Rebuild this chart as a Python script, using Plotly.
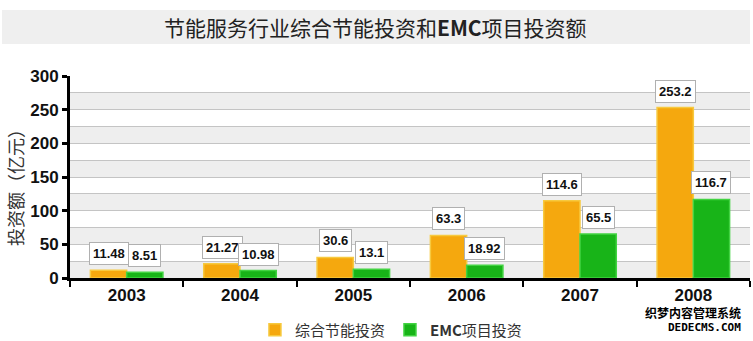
import plotly.graph_objects as go

years = ["2003", "2004", "2005", "2006", "2007", "2008"]
total_invest = [11.48, 21.27, 30.6, 63.3, 114.6, 253.2]
emc_invest = [8.51, 10.98, 13.1, 18.92, 65.5, 116.7]
series_names = ["综合节能投资", "<b>EMC</b>项目投资"]
title_text = "节能服务行业综合节能投资和<b>EMC</b>项目投资额"
y_title = "投资额（亿元）"
y_ticks = [0, 50, 100, 150, 200, 250, 300]

NUM_FONT = "Arial, Liberation Sans, sans-serif"
CJK_FONT = "Noto Sans CJK SC, sans-serif"

fig = go.Figure()
fig.add_trace(go.Bar(
    x=years, y=total_invest, name=series_names[0],
    marker=dict(color="#F5A80E", line=dict(color="#F7C93F", width=1.5)),
))
fig.add_trace(go.Bar(
    x=years, y=emc_invest, name=series_names[1],
    marker=dict(color="#18B418", line=dict(color="#42D342", width=1.5)),
))

shapes = []
# alternating background bands
for lo in range(0, 300, 50):
    shapes.append(dict(type="rect", xref="paper", yref="y", x0=0, x1=1, y0=lo, y1=lo + 25,
                       fillcolor="#EEEEEE", line=dict(width=0), layer="below"))
# title band
shapes.append(dict(type="rect", xref="paper", yref="paper", x0=-0.1, x1=1.0, y0=1.158, y1=1.327,
                   fillcolor="#EFEFEF", line=dict(width=0), layer="below"))

annotations = []
for i, yr in enumerate(years):
    for vals, shift in ((total_invest, -18), (emc_invest, 18)):
        annotations.append(dict(
            x=i, y=vals[i], xref="x", yref="y", xshift=shift, yshift=5,
            yanchor="bottom", showarrow=False,
            text="<b>%s</b>" % f"{vals[i]:g}",
            font=dict(family=NUM_FONT, size=13, color="#111111"),
            bgcolor="#FFFFFF", bordercolor="#B0B0B0", borderwidth=1, borderpad=3,
        ))
annotations.append(dict(
    x=-0.081, y=0.47, xref="paper", yref="paper", text=y_title, textangle=-90,
    xanchor="center", yanchor="middle",
    showarrow=False, font=dict(family=CJK_FONT, size=18, color="#333333"),
))
annotations.append(dict(
    x=0.449, y=1.243, xref="paper", yref="paper", text=title_text,
    xanchor="center", yanchor="middle",
    showarrow=False, font=dict(family=CJK_FONT, size=21, color="#222222"),
))
annotations.append(dict(
    x=0.99, y=-0.173, xref="paper", yref="paper", text="<b>织梦内容管理系统</b>",
    showarrow=False, xanchor="right", yanchor="middle",
    font=dict(family=CJK_FONT, size=12, color="#000000"),
))
annotations.append(dict(
    x=0.99, y=-0.245, xref="paper", yref="paper", text="<b>DEDECMS.COM</b>",
    showarrow=False, xanchor="right", yanchor="middle",
    font=dict(family="DejaVu Sans Mono, monospace", size=11, color="#000000"),
))

fig.update_layout(
    width=753, height=341,
    margin=dict(l=70, r=3, t=76, b=63, autoexpand=False),
    paper_bgcolor="#FFFFFF", plot_bgcolor="#FFFFFF",
    barmode="group", bargap=0.36, bargroupgap=0,
    showlegend=True,
    legend=dict(orientation="h", x=0.472, xanchor="center", y=-0.257, yanchor="middle",
                font=dict(family=CJK_FONT, size=15, color="#333333"),
                itemwidth=30, traceorder="normal"),
    shapes=shapes, annotations=annotations,
    xaxis=dict(type="category", range=[-0.5, 5.5], automargin=False,
               showline=True, linecolor="#000000", linewidth=3, tickangle=0,
               ticks="outside", tickson="boundaries", ticklen=6, tickwidth=2, tickcolor="#000000",
               tickfont=dict(family=NUM_FONT, size=17, color="#111111", weight="bold"),
               showgrid=False, fixedrange=True),
    yaxis=dict(range=[0, 300], tickvals=y_ticks, automargin=False,
               showline=True, linecolor="#000000", linewidth=3,
               ticks="outside", ticklen=5, tickwidth=3, tickcolor="#000000",
               tickfont=dict(family=NUM_FONT, size=17, color="#111111", weight="bold"),
               showgrid=True, gridcolor="#C4C4C4", gridwidth=1,
               minor=dict(dtick=25, showgrid=True, gridcolor="#C4C4C4", gridwidth=1),
               zeroline=False, fixedrange=True),
)

fig.write_html("out.html")
